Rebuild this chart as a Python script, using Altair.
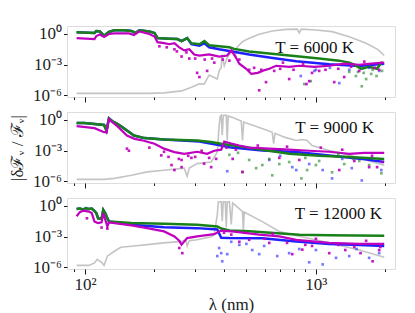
import altair as alt
import pandas as pd

FONT = "Liberation Serif"

# ---------------- Panel 1 : T = 6000 K ----------------
p1_gray_lam = [92, 190, 220, 262, 289, 313, 328, 345, 374, 381, 389, 392, 401, 413, 436, 448, 455, 481, 514, 568, 647, 743, 830, 847, 863, 1000, 1175, 1394, 1650, 1850, 1976]
p1_gray_val = [1.6e-6, 1.6e-6, 1.8e-6, 2.8e-6, 6.3e-6, 1.4e-5, 1.3e-5, 1.0e-4, 4.0e-5, 2.5e-4, 5.0e-4, 1.0e-2, 7.9e-4, 5.0e-3, 2.8e-2, 5.0e-3, 5.0e-2, 0.18, 0.38, 0.93, 1.95, 2.8, 3.0, 1.26, 3.0, 2.45, 1.7, 0.55, 0.126, 0.032, 7.9e-3]

p1_green_lam = [92, 110, 112, 116, 121, 127, 134, 148, 159, 165, 172, 190, 200, 206, 232, 251, 262, 277, 289, 313, 329, 345, 381, 422, 443, 514, 628, 847, 1033, 1262, 1394, 1466, 1570, 1700, 1840, 1934]
p1_green_val = [1.45, 1.26, 1.95, 1.78, 0.69, 1.58, 2.3, 2.3, 2.0, 1.26, 2.3, 1.78, 1.26, 0.41, 0.35, 0.32, 0.2, 0.4, 0.126, 0.1, 0.2, 0.079, 0.063, 0.05, 0.035, 0.02, 0.0126, 6.3e-3, 4.0e-3, 2.5e-3, 1.6e-3, 1.0e-3, 4.0e-4, 6.3e-4, 4.0e-4, 2.0e-3]

p1_blue_lam = [92, 110, 112, 116, 121, 127, 134, 148, 159, 165, 172, 190, 200, 206, 232, 251, 262, 277, 289, 313, 329, 345, 381, 422, 514, 628, 822, 1142, 1540, 1976]
p1_blue_val = [1.45, 1.26, 1.95, 1.78, 0.69, 1.58, 2.3, 2.3, 2.0, 1.26, 2.3, 1.78, 1.26, 0.41, 0.35, 0.32, 0.2, 0.4, 0.1, 0.071, 0.126, 0.05, 0.032, 0.022, 0.01, 5.0e-3, 2.2e-3, 1.1e-3, 7.4e-4, 1.26e-3]

p1_mag_lam = [92, 110, 112, 116, 121, 127, 134, 155, 163, 172, 190, 200, 206, 220, 232, 244, 256, 269, 283, 297, 313, 345, 381, 413, 430, 448, 466, 499, 525, 560, 586, 628, 673, 766, 847, 985, 1142, 1326, 1540, 1735, 1976]
p1_mag_val = [0.4, 0.32, 0.63, 0.89, 0.5, 1.0, 1.12, 1.12, 0.79, 1.78, 1.0, 0.56, 0.16, 0.126, 0.1, 0.126, 0.05, 0.025, 0.032, 0.01, 7.9e-3, 0.01, 6.3e-3, 7.9e-3, 0.025, 6.3e-3, 1.26e-3, 4.0e-4, 1.26e-4, 1.6e-4, 2.5e-4, 4.0e-4, 7.9e-4, 6.3e-4, 7.9e-4, 6.3e-4, 7.9e-4, 1.26e-3, 1.0e-3, 1.26e-3, 1.6e-3]

p1_mdot_lam = [306, 313, 338, 262, 283, 244, 363, 568, 608, 935, 910, 1200, 962, 766, 1326, 1540, 466, 514, 660, 1033, 422, 1879,
               210, 226, 250, 275, 300, 330, 355, 395, 540, 580, 700, 720, 800, 880, 1100, 1250, 1420, 1620, 1800]
p1_mdot_val = [1.6e-4, 6.3e-5, 2.5e-4, 6.3e-3, 4.0e-3, 0.032, 1.6e-3, 3.2e-6, 2.0e-5, 2.5e-5, 1.3e-5, 2.0e-5, 1.6e-4, 4.0e-5, 6.3e-5, 2.5e-4, 3.2e-3, 3.2e-4, 2.5e-4, 2.5e-4, 2.5e-3, 3.2e-4,
               0.063, 0.05, 0.02, 0.016, 4.0e-3, 3.2e-3, 4.0e-3, 3.2e-3, 5.0e-4, 3.2e-4, 4.0e-4, 1.6e-3, 3.2e-4, 1.26e-3, 3.2e-4, 4.0e-4, 6.3e-4, 2.0e-3, 5.0e-4]
p1_gdot_lam = [1580, 1650, 1490, 1735, 1830, 950, 890, 1394, 1934, 1520, 1610, 1760]
p1_gdot_val = [7.9e-6, 4.0e-5, 7.9e-5, 1.26e-4, 7.9e-5, 2.5e-5, 1.3e-5, 2.0e-4, 2.5e-4, 2.0e-4, 1.6e-4, 3.2e-4]
p1_bdot_lam = [860, 985, 1262, 1000, 1879, 1394, 1150, 1700]
p1_bdot_val = [7.9e-5, 2.5e-4, 1.6e-5, 3.2e-4, 2.5e-4, 3.2e-4, 5.0e-4, 5.0e-4]

# ---------------- Panel 2 : T = 9000 K ----------------
p2_gray_lam = [92, 121, 134, 159, 186, 220, 269, 277, 283, 306, 352, 366, 374, 381, 385, 389, 393, 397, 401, 409, 413, 417, 436, 475, 481, 487, 514, 597, 647, 656, 665, 736, 822, 873, 916, 962, 1142, 1326, 1580, 1976]
p2_gray_val = [1.6e-6, 1.6e-6, 2.0e-6, 4.0e-6, 8.7e-6, 1.26e-5, 2.0e-5, 3.2e-6, 2.0e-5, 5.5e-5, 7.9e-5, 3.2e-4, 7.9e-4, 0.28, 2.2, 2.8, 0.032, 2.8, 2.8, 2.8, 0.01, 2.5, 1.78, 0.79, 0.01, 0.63, 0.4, 0.126, 0.063, 5.0e-3, 0.05, 0.02, 0.01, 0.0126, 0.01, 3.2e-3, 1.07e-3, 5.0e-4, 1.6e-4, 3.8e-5]

p2_green_lam = [92, 99, 110, 121, 124, 127, 131, 138, 145, 152, 163, 181, 220, 306, 352, 389, 443, 586, 766, 1033, 1394, 1976]
p2_green_val = [0.51, 0.5, 0.4, 0.33, 0.093, 1.45, 0.79, 0.41, 0.2, 0.093, 0.03, 0.017, 0.0126, 0.01, 7.1e-3, 4.8e-3, 3.2e-3, 1.26e-3, 5.0e-4, 3.2e-4, 2.5e-4, 1.6e-4]

p2_blue_lam = [92, 99, 110, 121, 124, 127, 131, 138, 145, 152, 163, 181, 220, 313, 389, 422, 586, 822, 1142, 1580, 1976]
p2_blue_val = [0.51, 0.5, 0.4, 0.33, 0.093, 1.45, 0.79, 0.41, 0.2, 0.093, 0.03, 0.017, 0.0126, 7.9e-3, 3.2e-3, 2.2e-3, 1.07e-3, 7.4e-4, 3.5e-4, 1.6e-4, 7.9e-5]

p2_mag_lam = [92, 110, 121, 124, 127, 131, 138, 152, 164, 175, 200, 220, 244, 269, 306, 338, 363, 389, 401, 430, 466, 514, 628, 766, 935, 1142, 1394, 1618, 1976]
p2_mag_val = [0.25, 0.16, 0.065, 0.063, 1.26, 0.63, 0.25, 0.03, 0.0145, 0.011, 4.8e-3, 1.6e-3, 7.4e-4, 5.0e-4, 7.9e-4, 5.0e-4, 1.0e-3, 1.26e-3, 7.9e-3, 5.0e-3, 3.2e-3, 2.0e-3, 1.6e-3, 1.26e-3, 1.0e-3, 7.9e-4, 5.0e-4, 6.3e-4, 6.3e-4]

p2_mdot_lam = [152, 155, 214, 237, 244, 262, 262, 289, 328, 352, 370, 220, 436, 481, 1262, 1700, 1840, 1934, 847, 1466, 694,
               190, 230, 255, 280, 300, 320, 345, 410, 450, 560, 750, 1050, 1300, 1750]
p2_mdot_val = [1.6e-3, 1.0e-3, 3.5e-4, 4.0e-5, 1.3e-5, 2.5e-5, 1.26e-4, 2.0e-4, 5.5e-5, 2.5e-5, 1.6e-4, 7.9e-4, 1.6e-4, 8.7e-6, 1.3e-5, 2.5e-5, 2.5e-5, 7.9e-5, 1.26e-4, 1.0e-4, 2.0e-4,
               2.0e-3, 2.5e-4, 1.6e-4, 3.2e-4, 2.5e-4, 1.0e-3, 2.0e-4, 2.0e-3, 1.26e-3, 3.2e-3, 2.5e-3, 2.0e-3, 1.26e-3, 3.2e-4]
p2_gdot_lam = [481, 551, 586, 647, 766, 865, 916, 1175, 1326, 1700, 1920, 514, 694, 1000, 1033, 1540, 628, 422, 460, 900, 1250, 1450]
p2_gdot_val = [7.9e-6, 2.0e-5, 4.0e-5, 4.0e-6, 7.9e-5, 2.0e-6, 1.3e-5, 7.9e-6, 5.0e-5, 4.0e-5, 6.3e-6, 1.26e-4, 5.0e-5, 4.0e-5, 1.0e-4, 1.0e-4, 1.6e-4, 4.0e-4, 6.3e-4, 2.0e-4, 5.0e-4, 1.6e-4]
p2_bdot_lam = [413, 822, 1070, 1175, 1580, 1430, 1920, 790, 935, 628, 700, 1300]
p2_bdot_val = [1.0e-5, 1.3e-5, 1.3e-5, 2.0e-6, 1.26e-6, 2.0e-5, 1.3e-5, 2.5e-5, 5.0e-5, 1.26e-4, 3.2e-4, 1.6e-4]

# ---------------- Panel 3 : T = 12000 K ----------------
p3_gray_lam = [92, 104, 110, 113, 118, 121, 125, 134, 143, 163, 186, 220, 262, 273, 277, 283, 306, 352, 363, 374, 378, 389, 393, 397, 405, 409, 413, 422, 430, 436, 481, 485, 489, 586, 694, 847, 1142, 1540, 1976]
p3_gray_val = [1.6e-6, 1.6e-6, 2.8e-6, 6.3e-6, 3.2e-6, 1.6e-6, 1.26e-5, 3.8e-5, 9.3e-5, 1.26e-4, 1.7e-4, 2.5e-4, 3.5e-4, 5.0e-4, 1.26e-4, 4.0e-4, 5.1e-4, 1.0e-3, 1.6e-3, 0.135, 2.5, 2.6, 0.032, 2.6, 2.6, 7.9e-3, 2.5, 2.5, 0.016, 2.0, 0.28, 3.2e-3, 0.25, 0.03, 3.3e-3, 1.1e-3, 2.5e-4, 5.0e-5, 1.0e-5]

p3_green_lam = [92, 95, 98, 101, 104, 107, 110, 112, 114, 118, 120, 123, 124, 127, 159, 220, 306, 374, 389, 422, 514, 847, 1142, 1976]
p3_green_val = [0.5, 0.56, 0.45, 0.63, 0.5, 0.56, 0.32, 0.2, 0.063, 0.055, 0.41, 0.16, 0.093, 0.03, 0.022, 0.018, 0.0145, 0.01, 6.3e-3, 4.0e-3, 3.5e-3, 1.6e-3, 1.4e-3, 1.26e-3]

p3_blue_lam = [92, 95, 98, 101, 104, 107, 110, 112, 114, 118, 120, 123, 124, 127, 159, 220, 306, 374, 389, 422, 586, 822, 1142, 1540, 1976]
p3_blue_val = [0.5, 0.56, 0.45, 0.63, 0.5, 0.56, 0.32, 0.2, 0.063, 0.055, 0.41, 0.16, 0.093, 0.03, 0.0145, 8.5e-3, 6.9e-3, 5.0e-3, 7.9e-4, 7.4e-4, 7.1e-4, 3.5e-4, 2.0e-4, 1.6e-4, 1.26e-4]

p3_mag_lam = [92, 95, 98, 101, 104, 107, 110, 114, 118, 120, 123, 125, 127, 159, 186, 220, 244, 256, 262, 266, 277, 306, 363, 389, 443, 568, 694, 822, 1142, 1540, 1976]
p3_mag_val = [0.1, 0.25, 0.35, 0.32, 0.28, 0.2, 0.03, 0.021, 0.025, 0.2, 0.032, 0.01, 0.025, 0.0126, 6.9e-3, 3.3e-3, 1.07e-3, 4.0e-4, 1.7e-4, 2.5e-4, 7.4e-4, 1.07e-3, 1.8e-3, 4.0e-3, 3.2e-3, 1.6e-3, 1.07e-3, 5.0e-4, 2.5e-4, 2.0e-4, 2.0e-4]

p3_mdot_lam = [264, 256, 118, 125, 102, 873, 1142, 1560, 1760, 790, 962, 1340, 1879, 628, 514, 466, 1466,
               400, 430, 600, 650, 750, 900, 1000, 1250, 1650, 1900]
p3_mdot_val = [2.5e-5, 7.9e-5, 7.9e-3, 6.3e-3, 0.063, 5.5e-5, 2.5e-5, 2.5e-5, 4.0e-6, 2.0e-5, 1.26e-4, 5.0e-5, 5.0e-5, 2.5e-4, 5.0e-4, 3.2e-4, 1.0e-4,
               2.5e-3, 1.6e-3, 6.3e-4, 2.0e-3, 2.5e-4, 1.6e-4, 6.3e-4, 1.6e-4, 4.0e-4, 1.0e-4]
p3_gdot_lam = []
p3_gdot_val = []
p3_bdot_lam = [374, 389, 381, 393, 413, 466, 530, 568, 680, 766, 935, 1070, 1222, 1394, 1700, 1879, 847, 597, 430, 500, 1000, 1500]
p3_bdot_val = [1.3e-5, 2.5e-5, 7.9e-5, 4.0e-6, 2.0e-5, 1.6e-4, 5.0e-5, 2.0e-5, 1.3e-5, 2.5e-5, 3.2e-6, 2.0e-6, 8.7e-6, 1.3e-5, 8.7e-6, 2.5e-5, 6.3e-5, 1.26e-4, 3.2e-4, 2.0e-4, 5.0e-5, 6.3e-5]

labels = ["T = 6000 K", "T = 9000 K", "T = 12000 K"]
x_ticks = [90, 100, 200, 300, 400, 500, 600, 700, 800, 900, 1000, 2000]
y_ticks = [1.0, 1e-3, 1e-6]

GRAY = "#c4c4c4"
GREEN = "#1a801a"
BLUE = "#1f1fff"
MAG = "#bf00bf"

xscale = alt.Scale(type="log", domain=[83.6, 2200], nice=False)
yscale = alt.Scale(type="log", domain=[7.1e-7, 6.0], nice=False)

W, H = 328, 71


def df(lam, val):
    return pd.DataFrame({"lam": lam, "val": val})


def panel(idx, gray, blue, green, mag, bdot, gdot, mdot, label_x, label_y):
    bottom = idx == 2
    xaxis = alt.Axis(
        values=x_ticks,
        labels=bottom,
        labelExpr="datum.value == 100 ? '10²' : datum.value == 1000 ? '10³' : ''",
        tickSize={"condition": {"test": "datum.value == 100 || datum.value == 1000", "value": 5}, "value": 2.5},
        title="λ (nm)" if bottom else None,
        grid=False, domain=False, tickColor="black", tickWidth=0.9,
        labelFont=FONT, titleFont=FONT,
        labelFontSize=17, titleFontSize=17, labelPadding=2, titlePadding=4,
        labelColor="#222", titleColor="#222", titleFontWeight="normal",
    )
    yaxis = alt.Axis(
        values=y_ticks,
        labelExpr="datum.value > 0.5 ? '10⁰' : datum.value > 1e-4 ? '10⁻³' : '10⁻⁶'",
        title="|δℱᵥ / ℱᵥ|" if idx == 1 else None,
        grid=False, domain=False, tickColor="black", tickWidth=0.9, tickSize=3.5,
        labelFont=FONT, titleFont=FONT,
        labelFontSize=17, titleFontSize=17, labelPadding=2, titlePadding=6,
        labelColor="#222", titleColor="#222", titleFontWeight="normal",
    )
    enc = dict(x=alt.X("lam:Q", scale=xscale, axis=xaxis), y=alt.Y("val:Q", scale=yscale, axis=yaxis))
    layers = [
        alt.Chart(df(*gray)).mark_line(color=GRAY, strokeWidth=1.6, clip=True).encode(**enc),
        alt.Chart(df(*blue)).mark_line(color=BLUE, strokeWidth=2.5, clip=True).encode(**enc),
        alt.Chart(df(*green)).mark_line(color=GREEN, strokeWidth=2.5, clip=True).encode(**enc),
        alt.Chart(df(*mag)).mark_line(color=MAG, strokeWidth=2.2, clip=True).encode(**enc),
    ]
    for d, c, op in ((bdot, BLUE, 0.6), (gdot, GREEN, 0.6), (mdot, MAG, 0.9)):
        if len(d[0]):
            layers.append(alt.Chart(df(*d)).mark_square(color=c, size=7, opacity=op, clip=True).encode(**enc))
    layers.append(
        alt.Chart(pd.DataFrame({"t": [labels[idx]]})).mark_text(
            align="right", baseline="middle", font=FONT, fontSize=17, color="#111"
        ).encode(x=alt.value(label_x), y=alt.value(label_y), text="t:N")
    )
    return alt.layer(*layers).properties(width=W, height=H)


c1 = panel(0, (p1_gray_lam, p1_gray_val), (p1_blue_lam, p1_blue_val), (p1_green_lam, p1_green_val),
           (p1_mag_lam, p1_mag_val), (p1_bdot_lam, p1_bdot_val), (p1_gdot_lam, p1_gdot_val),
           (p1_mdot_lam, p1_mdot_val), 287, 22)
c2 = panel(1, (p2_gray_lam, p2_gray_val), (p2_blue_lam, p2_blue_val), (p2_green_lam, p2_green_val),
           (p2_mag_lam, p2_mag_val), (p2_bdot_lam, p2_bdot_val), (p2_gdot_lam, p2_gdot_val),
           (p2_mdot_lam, p2_mdot_val), 307, 16)
c3 = panel(2, (p3_gray_lam, p3_gray_val), (p3_blue_lam, p3_blue_val), (p3_green_lam, p3_green_val),
           (p3_mag_lam, p3_mag_val), (p3_bdot_lam, p3_bdot_val), (p3_gdot_lam, p3_gdot_val),
           (p3_mdot_lam, p3_mdot_val), 315, 16)

chart = (
    alt.vconcat(c1, c2, c3, spacing=15, bounds="flush")
    .properties(padding={"left": 0, "top": 16, "right": 5, "bottom": 5})
    .configure_view(stroke="black", strokeWidth=1)
    .configure(background="white", font=FONT)
)

chart.save("out.html", embed_options={"renderer": "svg", "actions": False})
